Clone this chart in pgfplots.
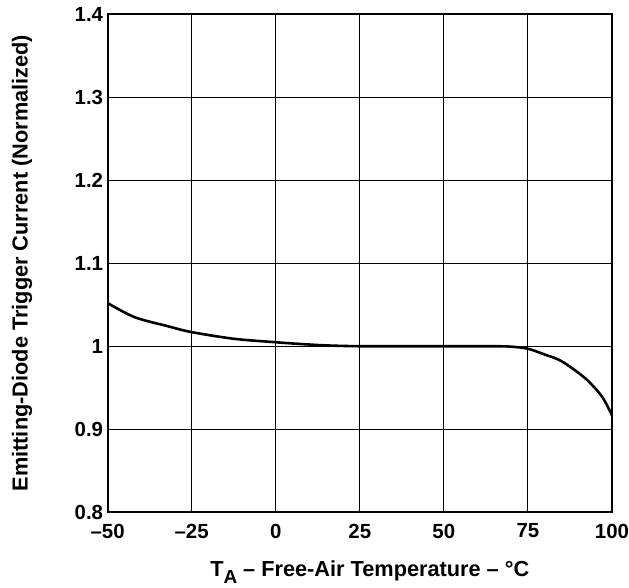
\documentclass[border=0pt]{standalone}
\usepackage{pgfplots}
\pgfplotsset{compat=1.18}
\usepackage{fontspec}
\setmainfont{Liberation Sans}
\begin{document}
\begin{tikzpicture}
\begin{axis}[
  scale only axis, width=506pt, height=500pt,
  xmin=-50, xmax=100, ymin=0.8, ymax=1.4,
  xtick={-50,-25,0,25,50,75,100},
  xticklabels={\textendash50,\textendash25,0,25,50,75,100},
  ytick={0.8,0.9,1,1.1,1.2,1.3,1.4},
  yticklabels={0.8,0.9,1,1.1,1.2,1.3,1.4},
  grid=major,
  major grid style={black, line width=0.9pt},
  axis line style={line width=2pt},
  major tick length=0pt,
  ticklabel style={font=\fontsize{20.5}{24}\selectfont\bfseries},
  xticklabel style={yshift=-8pt, inner xsep=0pt},
  yticklabel style={xshift=-1pt, inner ysep=7pt},
  xlabel={T\raisebox{-7pt}{\fontsize{19}{19}\selectfont A} \textendash\ Free-Air Temperature \textendash\ °C},
  ylabel={Emitting-Diode Trigger Current (Normalized)},
  label style={font=\fontsize{21.8}{25}\selectfont\bfseries},
  xlabel style={yshift=-16pt, xshift=10pt},
  ylabel style={yshift=27pt, inner ysep=12pt},
]
\addplot[black, line width=2.6pt, smooth, tension=0.5] coordinates {
(-50,1.052) (-42,1.035) (-32,1.024) (-25,1.017) (-12.5,1.009) (0,1.0048) (7,1.0028) (15,1.001) (25,1.0) (40,1.0) (55,1.0) (65,1.0) (70,0.9995) (75,0.997) (80,0.990) (85,0.982) (92,0.9616) (97,0.9396) (100,0.9168)
};
\end{axis}
\end{tikzpicture}
\end{document}
